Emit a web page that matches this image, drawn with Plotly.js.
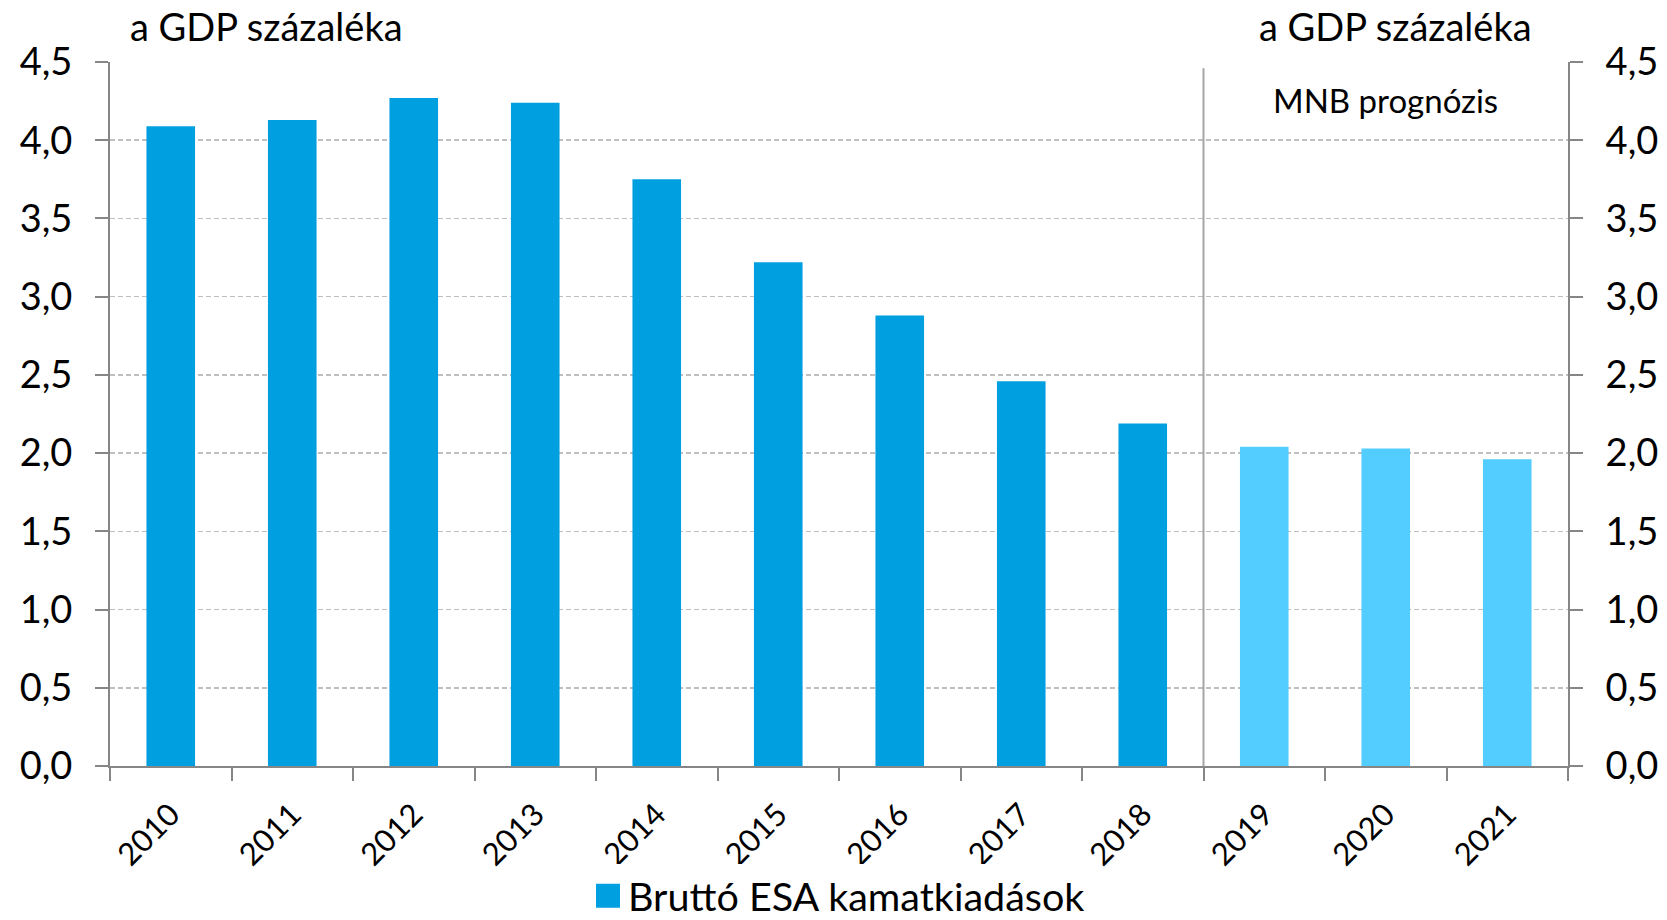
<!DOCTYPE html>
<html>
<head>
<meta charset="utf-8">
<script src="https://cdn.plot.ly/plotly-3.0.1.min.js"></script>
<style>html,body{margin:0;padding:0;background:#fff;}#chart{width:1667px;height:920px;}</style>
</head>
<body>
<div id="chart"></div>
<script>
const years = ['2010','2011','2012','2013','2014','2015','2016','2017','2018','2019','2020','2021'];
const interestSpending = [4.09, 4.13, 4.27, 4.24, 3.75, 3.22, 2.88, 2.46, 2.19, 2.04, 2.03, 1.96];
const isForecast = [false,false,false,false,false,false,false,false,false,true,true,true];
const seriesName = 'Bruttó ESA kamatkiadások';
const axisTitle = 'a GDP százaléka';
const forecastLabel = 'MNB prognózis';
const forecastStartYear = '2019';
const forecastLabelYear = '2020';
const yTicks = [0, 0.5, 1, 1.5, 2, 2.5, 3, 3.5, 4, 4.5];

const colActual = '#009FE0';
const colForecast = '#53CCFF';
const FONT = 'Lato, "Noto Sans", sans-serif';

const barTrace = {
  type: 'bar',
  x: years,
  y: interestSpending,
  name: seriesName,
  marker: {color: isForecast.map(f => f ? colForecast : colActual)},
  showlegend: true
};

// carrier trace so that the right-hand axis is drawn (draws nothing itself)
const rightAxisTrace = {
  type: 'scatter',
  mode: 'none',
  x: years,
  y: interestSpending,
  yaxis: 'y2',
  showlegend: false,
  hoverinfo: 'skip'
};

const axisCommon = {
  range: [0, 4.5],
  autorange: false,
  tickvals: yTicks,
  tickformat: '.1f',
  ticks: 'outside',
  ticklen: 13,
  tickwidth: 2,
  tickcolor: '#868686',
  showline: true,
  linecolor: '#868686',
  linewidth: 2,
  zeroline: false,
  ticklabelstandoff: 15,
  tickfont: {family: FONT, size: 38, color: '#000'}
};

const fsIdx = years.indexOf(forecastStartYear);
const lblIdx = years.indexOf(forecastLabelYear);

const layout = {
  width: 1667,
  height: 920,
  margin: {l: 110, r: 99, t: 62, b: 154, autoexpand: false},
  paper_bgcolor: '#fff',
  plot_bgcolor: '#fff',
  separators: ', ',
  font: {family: FONT, color: '#000'},
  bargap: 0.6,
  xaxis: {
    type: 'category',
    range: [-0.5, years.length - 0.5],
    autorange: false,
    tickangle: -45,
    tickson: 'boundaries',
    ticks: 'outside',
    ticklen: 13,
    tickwidth: 2,
    tickcolor: '#868686',
    showline: true,
    linecolor: '#868686',
    linewidth: 2,
    showgrid: false,
    ticklabelstandoff: 16,
    tickfont: {family: FONT, size: 31, color: '#000'}
  },
  yaxis: Object.assign({}, axisCommon, {
    showgrid: true,
    gridcolor: '#BFBFBF',
    gridwidth: 1.5,
    griddash: '5px,3px'
  }),
  yaxis2: Object.assign({}, axisCommon, {
    overlaying: 'y',
    side: 'right',
    showgrid: false
  }),
  shapes: [{
    type: 'line',
    xref: 'x', yref: 'y',
    x0: fsIdx - 0.5, x1: fsIdx - 0.5, y0: 0, y1: 4.46,
    line: {color: '#A6A6A6', width: 2}
  }],
  annotations: [
    {text: axisTitle, xref: 'paper', yref: 'paper', x: 0.107, y: 1.051,
     xanchor: 'center', yanchor: 'middle', showarrow: false,
     font: {family: FONT, size: 38, color: '#000'}},
    {text: axisTitle, xref: 'paper', yref: 'paper', x: 0.882, y: 1.051,
     xanchor: 'center', yanchor: 'middle', showarrow: false,
     font: {family: FONT, size: 38, color: '#000'}},
    {text: forecastLabel, xref: 'x', yref: 'y', x: lblIdx, y: 4.26,
     xanchor: 'center', yanchor: 'middle', showarrow: false,
     font: {family: FONT, size: 33, color: '#000'}}
  ],
  legend: {
    orientation: 'h',
    xref: 'paper', yref: 'container',
    x: 0.5, xanchor: 'center',
    y: 0.026, yanchor: 'middle',
    font: {family: FONT, size: 39.5, color: '#000'},
    itemwidth: 30
  }
};

Plotly.newPlot('chart', [barTrace, rightAxisTrace], layout, {staticPlot: true, displayModeBar: false}).then(gd => {
  gd.querySelectorAll('.legendpoints path').forEach(p => {
    p.setAttribute('d', 'M12,12H-12V-12H12Z');
  });
});
</script>
</body>
</html>
